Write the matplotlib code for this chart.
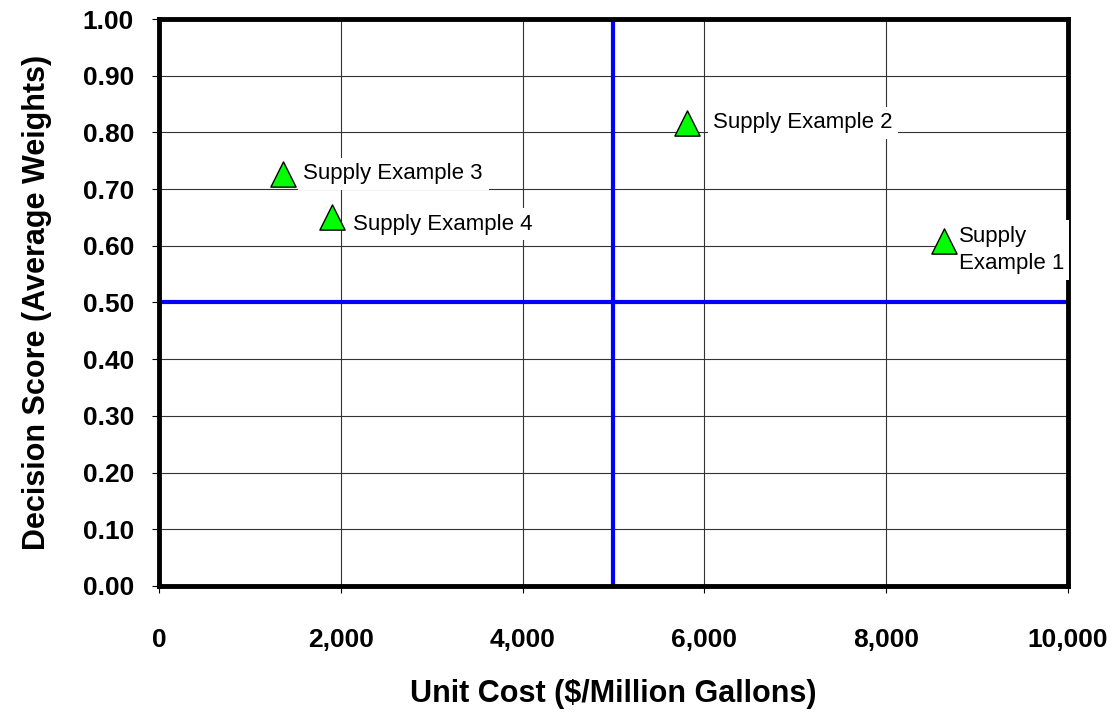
import matplotlib
matplotlib.use("Agg")
import matplotlib.pyplot as plt
from matplotlib.ticker import FuncFormatter, MultipleLocator

plt.rcParams['font.family'] = ['Liberation Sans', 'DejaVu Sans']

# unit cost vs. decision score for each supply option
names = ["Supply\nExample 1", "Supply Example 2", "Supply Example 3", "Supply Example 4"]
cost = [8636, 5809, 1370, 1903]
score = [0.609, 0.817, 0.727, 0.650]
label_dx = [160, 290, 220, 230]
label_dy = [-0.016, 0.0, 0.0, -0.012]

fig = plt.figure(figsize=(11.17, 7.12), dpi=100)
ax = fig.add_axes([0.1423, 0.177, 0.8138, 0.7963])

ax.set_xlim(0, 10000)
ax.set_ylim(0, 1.0)
ax.xaxis.set_major_locator(MultipleLocator(2000))
ax.yaxis.set_major_locator(MultipleLocator(0.1))
ax.xaxis.set_major_formatter(FuncFormatter(lambda v, p: "{:,.0f}".format(v)))
ax.yaxis.set_major_formatter(FuncFormatter(lambda v, p: "{:.2f}".format(v)))
ax.grid(True, color='#333333', linewidth=0.8, zorder=0)
ax.tick_params(direction='out', length=5, width=0.8, labelsize=19)
ax.tick_params(axis='y', pad=13)
ax.tick_params(axis='x', pad=25)
for lab in ax.get_xticklabels() + ax.get_yticklabels():
    lab.set_fontweight('bold')
for s in ax.spines.values():
    s.set_linewidth(3.5)
    s.set_zorder(5)

# quadrant dividers
ax.axvline(5000, color='#0000ff', linewidth=3, zorder=2)
ax.axhline(0.5, color='#0000ff', linewidth=3, zorder=2)

ax.scatter(cost, score, marker='^', s=330, facecolor='#00ff00', edgecolor='black',
           linewidth=1, zorder=7)

for n, x, y, dx, dy in zip(names, cost, score, label_dx, label_dy):
    ax.text(x + dx, y + dy, n, fontsize=16, ha='left', va='center',
            linespacing=1.4, zorder=6, clip_on=False,
            bbox=dict(facecolor='white', edgecolor='none', pad=4))

ax.set_xlabel("Unit Cost ($/Million Gallons)", fontsize=22, fontweight='bold', labelpad=20)
ax.set_ylabel("Decision Score (Average Weights)", fontsize=22, fontweight='bold', labelpad=22)

fig.savefig("out.png", dpi=100)
